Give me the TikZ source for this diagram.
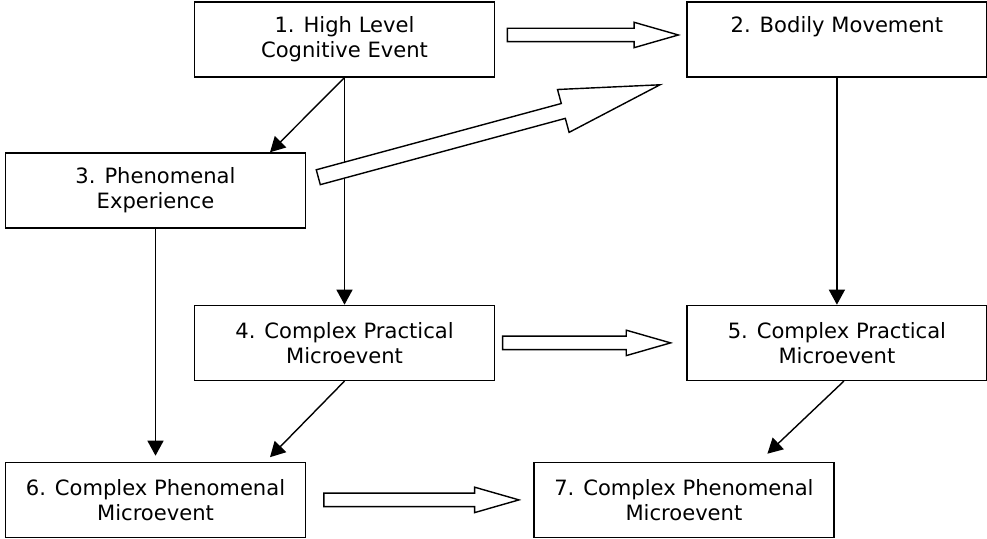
\documentclass[tikz,border=0pt]{standalone}
\usepackage{fontspec}
\setmainfont{DejaVu Sans}
\usetikzlibrary{positioning,arrows.meta,shapes.arrows}

\begin{document}
\begin{tikzpicture}[
node distance=4.54cm,
box/.style={rectangle,draw,line width=0.8pt,minimum width=6cm,minimum height=1.5cm,align=center,font=\fontsize{12}{14.2}\selectfont},
arrow/.style={-{Triangle[length=3mm,width=3.2mm]},line width=0.8pt},
fatarrow/.style={single arrow,draw,line width=0.8pt,fill=white,inner sep=0pt,inner ysep=1.2mm,single arrow head extend=1.2mm,single arrow tip angle=32,sloped,anchor=tail}
]
\useasboundingbox (0,0) rectangle (19.74,10.78);
\node[box] (n1) at (6.89,9.99) {1. High Level\\Cognitive Event};
\node[box,right=3.82cm of n1] (n2) {2. Bodily Movement\\\phantom{g}};
\node[box] (n3) at (3.11,6.97) {3. Phenomenal\\Experience};
\node[box,below=of n1] (n4) {4. Complex Practical\\Microevent};
\node[box,below=of n2] (n5) {5. Complex Practical\\Microevent};
\node[box,below=4.66cm of n3] (n6) {6. Complex Phenomenal\\Microevent};
\node[box,right=of n6] (n7) {7. Complex Phenomenal\\Microevent};
% thin arrows
\draw[arrow] (n1.south) -- ([xshift=2.29cm]n3.north);
\draw[arrow] (n1.south) -- (n4.north);
\draw[arrow] (n2.south) -- (n5.north);
\draw[arrow] (n3.south) -- ([yshift=0.12cm]n6.north);
\draw[arrow] (n4.south) -- ([xshift=2.29cm,yshift=0.09cm]n6.north);
\draw[arrow] ([xshift=0.14cm]n5.south) -- ([xshift=1.67cm,yshift=0.16cm]n7.north);
% block arrows
\path ([yshift=0.09cm]n1.east) -- node[fatarrow,pos=0.06,minimum height=3.42cm] {} ([yshift=0.09cm]n2.west);
\path (n4.east) -- node[fatarrow,pos=0.035,minimum height=3.36cm] {} (n5.west);
\path (n6.east) -- node[fatarrow,pos=0.075,minimum height=3.9cm] {} (n7.west);
\path ([yshift=0.2cm]n3.east) -- node[fatarrow,pos=0.03,minimum height=7.08cm,inner ysep=1.4mm,single arrow head extend=2.9mm,single arrow tip angle=25] {} (n2.south west);
\end{tikzpicture}
\end{document}
